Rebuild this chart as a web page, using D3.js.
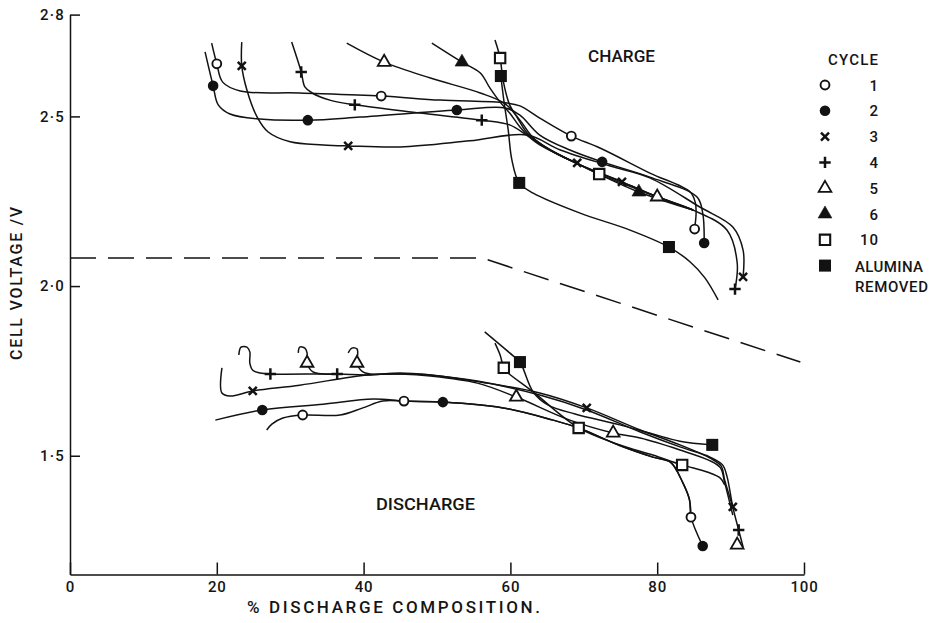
<!DOCTYPE html>
<html>
<head>
<meta charset="utf-8">
<script src="https://cdn.jsdelivr.net/npm/d3@7"></script>
<style>
  body { margin: 0; background: #fff; }
  text { font-family: Roboto, "Liberation Sans", sans-serif; font-weight: 500; fill: #151515; }
</style>
</head>
<body>
<div id="chart"></div>
<script>
// Valores: [% descarga, voltaje]
const xTicks = [0, 20, 40, 60, 80, 100];
const yTicks = [2.8, 2.5, 2.0, 1.5];

// Línea de trazos (frontera)
const dashedBoundary = [[0, 2.083], [56.1, 2.083], [99.5, 1.776]];

// --- Carga ---
const chargeC1 = [[19.3,2.716],[20.0,2.655],[20.8,2.601],[23.2,2.575],[31.3,2.569],[42.4,2.560],[50.4,2.548],[59.3,2.540],[61.3,2.531],[64.0,2.495],[68.3,2.442],[72.2,2.407],[79.0,2.333],[84.5,2.277],[85.2,2.245],[85.3,2.215],[85.1,2.168]];
const chargeC1Marks = [[20.0,2.655],[42.4,2.560],[68.3,2.442],[85.1,2.168]];

const chargeC2 = [[18.4,2.690],[19.5,2.590],[20.2,2.534],[21.8,2.507],[25.9,2.492],[32.4,2.489],[39.5,2.498],[52.7,2.519],[59.3,2.525],[61.3,2.504],[64.0,2.445],[68.1,2.401],[72.5,2.366],[79.0,2.321],[85.4,2.263],[86.2,2.215],[86.4,2.127]];
const chargeC2Marks = [[19.5,2.590],[32.4,2.489],[52.7,2.519],[72.5,2.366],[86.4,2.127]];

const chargeC3 = [[23.4,2.719],[23.4,2.649],[24.1,2.578],[25.5,2.498],[27.0,2.454],[30.0,2.425],[34.5,2.416],[37.9,2.413],[45.0,2.410],[54.5,2.428],[62.3,2.445],[66.8,2.401],[73.6,2.354],[79.0,2.319],[85.8,2.233],[90.3,2.174],[91.7,2.106],[91.7,2.027]];
const chargeC3Marks = [[23.4,2.649],[37.9,2.413],[69.1,2.363],[75.2,2.307],[91.7,2.027]];

const chargeC4 = [[30.2,2.719],[31.5,2.631],[32.0,2.587],[33.0,2.569],[35.4,2.548],[38.8,2.534],[47.7,2.510],[56.1,2.489],[59.9,2.475],[62.4,2.442],[65.4,2.401],[69.2,2.360],[75.2,2.307],[80.0,2.263],[84.9,2.224],[89.5,2.165],[90.9,2.068],[90.6,1.991]];
const chargeC4Marks = [[31.5,2.631],[38.8,2.534],[56.1,2.489],[90.6,1.991]];

const chargeC5 = [[37.7,2.716],[42.8,2.660],[49.1,2.613],[55.9,2.569],[59.3,2.537],[61.3,2.489],[63.4,2.431],[69.2,2.360],[75.2,2.307],[80.0,2.263],[84.9,2.224]];
const chargeC5Marks = [[42.8,2.660],[80.0,2.263]];

const chargeC6 = [[49.3,2.716],[53.4,2.660],[55.9,2.628],[57.2,2.584],[58.6,2.542],[59.9,2.510],[61.3,2.469],[63.4,2.425],[69.2,2.360],[77.5,2.277],[84.9,2.224]];
const chargeC6Marks = [[53.4,2.660],[77.5,2.277]];

const chargeC10 = [[57.9,2.725],[58.6,2.672],[59.0,2.607],[59.9,2.534],[60.9,2.498],[62.3,2.451],[65.4,2.401],[69.2,2.360],[72.1,2.330],[80.0,2.263],[84.9,2.224]];
const chargeC10Marks = [[58.6,2.672],[72.1,2.330]];

const chargeAl = [[58.7,2.619],[59.1,2.548],[59.7,2.460],[60.2,2.372],[61.2,2.304],[63.1,2.274],[69.5,2.215],[76.3,2.165],[81.6,2.115],[84.5,2.071],[86.5,2.024],[88.3,1.959]];
const chargeAlMarks = [[58.7,2.619],[61.2,2.304],[81.6,2.115]];

// --- Descarga ---
const dischargeC1 = [[26.8,1.576],[27.5,1.593],[29.0,1.611],[31.7,1.620],[36.8,1.620],[39.9,1.641],[42.6,1.661],[45.5,1.661],[50.8,1.658],[59.0,1.641],[65.8,1.605],[69.3,1.582],[74.9,1.530],[79.4,1.496],[81.8,1.481],[83.5,1.420],[84.4,1.370],[84.6,1.319]];
const dischargeC1Marks = [[31.7,1.620],[45.5,1.661],[84.6,1.319]];

const dischargeC2 = [[19.8,1.605],[26.2,1.635],[34.5,1.652],[41.3,1.667],[45.5,1.661],[50.8,1.658],[59.0,1.641],[65.8,1.605],[69.3,1.582],[74.9,1.530],[79.4,1.496],[81.8,1.481],[83.5,1.420],[84.4,1.370],[84.6,1.319],[86.2,1.234]];
const dischargeC2Marks = [[26.2,1.635],[50.8,1.658],[86.2,1.234]];

const dischargeC3 = [[20.7,1.759],[20.7,1.685],[21.8,1.676],[24.9,1.691],[31.3,1.708],[40.5,1.738],[45.0,1.741],[49.1,1.738],[56.8,1.714],[64.0,1.685],[70.4,1.641],[77.7,1.576],[83.1,1.532],[87.2,1.493],[88.7,1.470],[89.2,1.428],[90.3,1.349]];
const dischargeC3Marks = [[24.9,1.691],[70.4,1.641],[90.3,1.349]];

const dischargeC4 = [[23.0,1.797],[23.3,1.820],[24.1,1.820],[24.5,1.806],[24.5,1.773],[24.9,1.752],[25.9,1.744],[27.3,1.741],[36.4,1.741],[40.5,1.738],[45.0,1.744],[49.1,1.738],[55.5,1.720],[64.0,1.679],[70.4,1.635],[77.7,1.570],[83.1,1.526],[87.2,1.496],[88.9,1.473],[89.5,1.440],[90.3,1.349],[91.1,1.281],[91.7,1.231]];
const dischargeC4Marks = [[27.3,1.741],[36.4,1.741],[91.1,1.281]];

const dischargeC5a = [[31.1,1.803],[31.3,1.820],[32.0,1.817],[32.3,1.803],[32.3,1.773],[33.1,1.747],[34.5,1.741],[36.4,1.741]];
const dischargeC5b = [[37.9,1.803],[38.4,1.817],[39.1,1.815],[39.2,1.803],[39.1,1.773],[39.9,1.747],[40.9,1.741],[45.0,1.741],[49.1,1.735],[55.5,1.714],[60.8,1.673],[68.1,1.605],[74.0,1.567],[77.7,1.552],[83.1,1.517],[87.0,1.487],[88.6,1.465],[89.2,1.420],[90.3,1.325]];
const dischargeC5Marks = [[32.3,1.773],[39.1,1.773],[60.8,1.673],[74.0,1.567],[90.9,1.237]];

const dischargeC10 = [[57.9,1.832],[58.6,1.797],[59.1,1.759],[59.7,1.744],[63.1,1.688],[69.3,1.582],[74.9,1.532],[79.4,1.502],[83.4,1.473],[86.8,1.452],[88.6,1.434],[89.2,1.414]];
const dischargeC10Marks = [[59.1,1.759],[69.3,1.582],[83.4,1.473]];

const dischargeAl = [[56.5,1.865],[59.9,1.803],[61.3,1.776],[61.7,1.759],[63.1,1.688],[65.1,1.650],[68.8,1.623],[74.9,1.591],[79.4,1.564],[83.1,1.543],[87.5,1.532]];
const dischargeAlMarks = [[61.3,1.776],[87.5,1.532]];

// Leyenda
const legendLabels = ["1", "2", "3", "4", "5", "6", "10", "ALUMINA"];
const legendSymbols = ["circleOpen", "circleFilled", "times", "plus", "triOpen", "triFilled", "squareOpen", "squareFilled"];

// Series: cada ciclo con sus curvas y marcadores
const series = [
    { sym: "circleOpen",   lines: [chargeC1, dischargeC1],   marks: chargeC1Marks.concat(dischargeC1Marks) },
    { sym: "circleFilled", lines: [chargeC2, dischargeC2],   marks: chargeC2Marks.concat(dischargeC2Marks) },
    { sym: "times",        lines: [chargeC3, dischargeC3],   marks: chargeC3Marks.concat(dischargeC3Marks) },
    { sym: "plus",         lines: [chargeC4, dischargeC4],   marks: chargeC4Marks.concat(dischargeC4Marks) },
    { sym: "triOpen",      lines: [chargeC5, dischargeC5a, dischargeC5b], marks: chargeC5Marks.concat(dischargeC5Marks) },
    { sym: "triFilled",    lines: [chargeC6],                marks: chargeC6Marks },
    { sym: "squareOpen",   lines: [chargeC10, dischargeC10], marks: chargeC10Marks.concat(dischargeC10Marks) },
    { sym: "squareFilled", lines: [chargeAl, dischargeAl],   marks: chargeAlMarks.concat(dischargeAlMarks) }
];

const WIDTH = 933, HEIGHT = 623;
const INK = "#121212";

const svg = d3.select("#chart").append("svg")
    .attr("width", WIDTH).attr("height", HEIGHT);
svg.append("rect").attr("width", WIDTH).attr("height", HEIGHT).attr("fill", "#fff");

const x = d3.scaleLinear().domain([0, 100]).range([70, 804]);
const y = d3.scaleLinear().domain([1.15, 2.8]).range([574.5, 14.6]);

// Símbolos propios (cruz y aspa de trazo)
const symPlus = { draw(ctx, size) { const r = Math.sqrt(size) / 2; ctx.moveTo(-r, 0); ctx.lineTo(r, 0); ctx.moveTo(0, -r); ctx.lineTo(0, r); } };
const symTimes = { draw(ctx, size) { const r = Math.sqrt(size) / 2; ctx.moveTo(-r, -r); ctx.lineTo(r, r); ctx.moveTo(r, -r); ctx.lineTo(-r, r); } };

const symbolStyle = {
    circleOpen:   { type: d3.symbolCircle,   size: 62,  fill: "#fff", stroke: 1.9 },
    circleFilled: { type: d3.symbolCircle,   size: 88,  fill: INK,    stroke: 0 },
    times:        { type: symTimes,          size: 64,  fill: "none", stroke: 2.5 },
    plus:         { type: symPlus,           size: 130, fill: "none", stroke: 2.5 },
    triOpen:      { type: d3.symbolTriangle, size: 70,  fill: "#fff", stroke: 1.8 },
    triFilled:    { type: d3.symbolTriangle, size: 82,  fill: INK,    stroke: 0.6 },
    squareOpen:   { type: d3.symbolSquare,   size: 108, fill: "#fff", stroke: 2.1 },
    squareFilled: { type: d3.symbolSquare,   size: 145, fill: INK,    stroke: 0 }
};

function drawSymbol(g, name, px, py) {
    const s = symbolStyle[name];
    g.append("path")
        .attr("transform", `translate(${px},${py})`)
        .attr("d", d3.symbol().type(s.type).size(s.size)())
        .attr("fill", s.fill)
        .attr("stroke", INK)
        .attr("stroke-width", s.stroke);
}

// Ejes
const yAxis = d3.axisLeft(y)
    .tickValues(yTicks)
    .tickSizeInner(-10)
    .tickSizeOuter(0)
    .tickPadding(5)
    .tickFormat(d => d3.format(".1f")(d).replace(".", "·"));

const gy = svg.append("g").attr("transform", `translate(${x(0)},0)`).call(yAxis);
gy.selectAll("text").attr("font-family", null).style("font-size", "15px").attr("letter-spacing", 1.2);

const xAxis = d3.axisBottom(x)
    .tickValues(xTicks)
    .tickSizeInner(-12)
    .tickSizeOuter(0)
    .tickPadding(7);

const gx = svg.append("g").attr("transform", `translate(0,${y(1.15)})`).call(xAxis);
gx.selectAll("text").attr("font-family", null).style("font-size", "15px").attr("letter-spacing", 0.8);

[gx, gy].forEach(g => {
    g.attr("font-family", null);
    g.selectAll("path, line").attr("stroke", INK).attr("stroke-width", 1.5);
});

// Línea de trazos
const straight = d3.line().x(d => x(d[0])).y(d => y(d[1]));
svg.append("path")
    .attr("d", straight(dashedBoundary))
    .attr("fill", "none")
    .attr("stroke", INK)
    .attr("stroke-width", 1.5)
    .attr("stroke-dasharray", "26,12");

// Curvas
const curve = d3.line()
    .x(d => x(d[0]))
    .y(d => y(d[1]))
    .curve(d3.curveCatmullRom.alpha(0.5));

const linesG = svg.append("g");
series.forEach(s => {
    s.lines.forEach(pts => {
        linesG.append("path")
            .attr("d", curve(pts))
            .attr("fill", "none")
            .attr("stroke", INK)
            .attr("stroke-width", 1.5);
    });
});

// Marcadores
const marksG = svg.append("g");
series.forEach(s => {
    s.marks.forEach(d => drawSymbol(marksG, s.sym, x(d[0]), y(d[1])));
});

// Textos
svg.append("text").attr("x", 588).attr("y", 62)
    .attr("textLength", 67).attr("lengthAdjust", "spacingAndGlyphs")
    .style("font-size", "17px").text("CHARGE");

svg.append("text").attr("x", 376).attr("y", 510)
    .attr("textLength", 99).attr("lengthAdjust", "spacingAndGlyphs")
    .style("font-size", "17px").text("DISCHARGE");

svg.append("text").attr("x", 247).attr("y", 613)
    .attr("textLength", 293).attr("lengthAdjust", "spacing")
    .style("font-size", "17px").text("% DISCHARGE COMPOSITION.");

svg.append("text")
    .attr("transform", "translate(22,283.5) rotate(-90)")
    .attr("text-anchor", "middle")
    .attr("textLength", 153).attr("lengthAdjust", "spacing")
    .style("font-size", "16px").text("CELL VOLTAGE /V");

// Leyenda
const legend = svg.append("g");
legend.append("text").attr("x", 828).attr("y", 64.5)
    .attr("textLength", 50).attr("lengthAdjust", "spacing")
    .style("font-size", "15px").text("CYCLE");

legendSymbols.forEach((sym, i) => {
    const ly = 85 + i * 25.8;
    drawSymbol(legend, sym, 825, ly);
    if (i < 7) {
        legend.append("text").attr("x", 879).attr("y", ly + 5.5)
            .attr("text-anchor", "end")
            .attr("letter-spacing", 1)
            .style("font-size", "15px").text(legendLabels[i]);
    } else {
        legend.append("text").attr("x", 855).attr("y", ly + 6)
            .attr("textLength", 68).attr("lengthAdjust", "spacing")
            .style("font-size", "15px").text(legendLabels[i]);
        legend.append("text").attr("x", 855).attr("y", ly + 26)
            .attr("textLength", 73).attr("lengthAdjust", "spacing")
            .style("font-size", "15px").text("REMOVED");
    }
});
</script>
</body>
</html>
